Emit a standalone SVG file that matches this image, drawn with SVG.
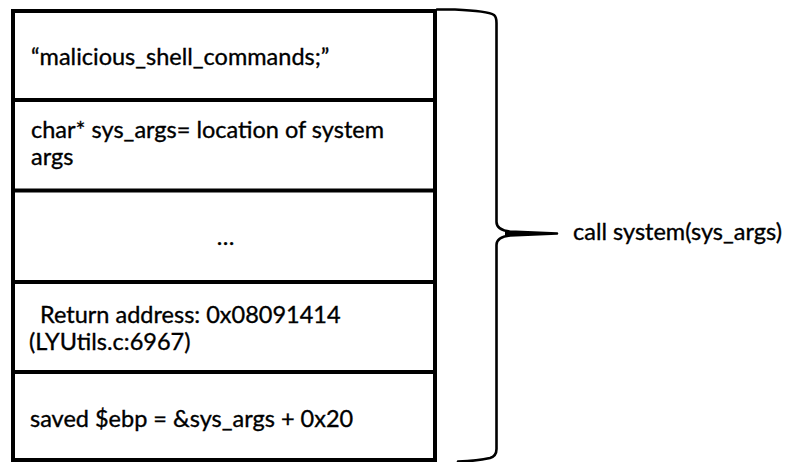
<svg xmlns="http://www.w3.org/2000/svg" width="790" height="462" viewBox="0 0 790 462">
  <style>
    .frame { fill: none; stroke: #000; stroke-width: 4; }
    .rule { stroke: #000; stroke-width: 4; }
    .brace { fill: none; stroke: #000; stroke-width: 2.6; stroke-linecap: round; stroke-linejoin: round; }
    .lbl { font-family: Lato, "Open Sans", "Liberation Sans", sans-serif; font-size: 23.5px; fill: #000; stroke: #000; stroke-width: 0.35; }
  </style>
  <rect width="790" height="462" fill="#fff"/>

  <!-- stack frame outline and slot separators -->
  <g id="stack">
    <rect class="frame" x="13" y="11" width="422" height="449"/>
    <line class="rule" x1="13" y1="100" x2="435" y2="100"/>
    <line class="rule" x1="13" y1="190.5" x2="435" y2="190.5"/>
    <line class="rule" x1="13" y1="282" x2="435" y2="282"/>
    <line class="rule" x1="13" y1="372" x2="435" y2="372"/>
  </g>

  <g id="slot-commands">
    <text class="lbl" x="31" y="65">“malicious_shell_commands;”</text>
  </g>
  <g id="slot-sysargs">
    <text class="lbl" x="31" y="138">char* sys_args= location of system</text>
    <text class="lbl" x="31" y="165">args</text>
  </g>
  <g id="slot-gap">
    <text class="lbl" x="225.5" y="245" text-anchor="middle">…</text>
  </g>
  <g id="slot-return">
    <text class="lbl" x="40" y="323">Return address: 0x08091414</text>
    <text class="lbl" x="29" y="350">(LYUtils.c:6967)</text>
  </g>
  <g id="slot-ebp">
    <text class="lbl" x="30" y="427">saved $ebp = &amp;sys_args + 0x20</text>
  </g>

  <!-- curly brace spanning the whole frame -->
  <g id="connectors">
    <path class="brace" d="M437 9.5 L455 9.5 Q488 11 494 15 Q496.5 17 496.5 23 L496.5 222 Q496.5 230 510 231.5 L557 233.5 L510 235.5 Q496.5 237 496.5 245 L496.5 449 Q496.5 456 490 458 Q478 461 458 461.5"/>
    <path d="M505 231.5 Q530 232 557 233.5 Q530 235 505 235.5 Z" fill="#000"/>
  </g>

  <g id="call-label">
    <text class="lbl" x="573" y="240">call system(sys_args)</text>
  </g>
</svg>
